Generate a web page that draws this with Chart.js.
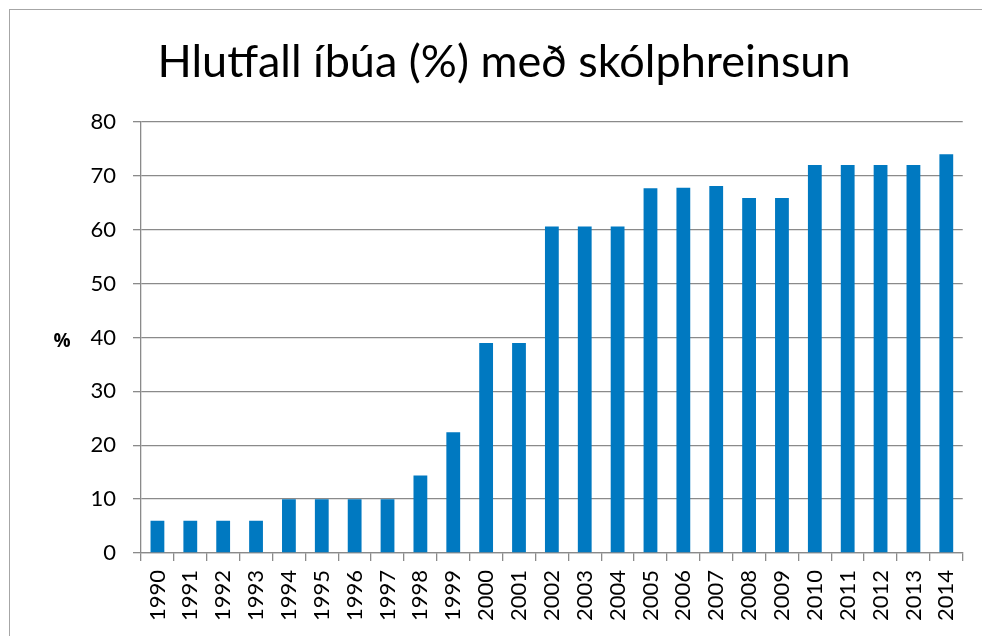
<!DOCTYPE html>
<html>
<head>
<meta charset="utf-8">
<script src="https://cdn.jsdelivr.net/npm/chart.js@4.4.1/dist/chart.umd.min.js"></script>
<style>
  html, body { margin: 0; padding: 0; background: #fff; overflow: hidden; }
  #frame { position: absolute; left: 9px; top: 9px; width: 1200px; height: 900px;
           border-left: 1.5px solid #a6a6a6; border-top: 1.5px solid #a6a6a6; }
  #chart { position: absolute; left: 0; top: 0; }
</style>
</head>
<body>
<div id="frame"></div>
<canvas id="chart" width="982" height="636"></canvas>
<script>
// chart data
var years = ['1990', '1991', '1992', '1993', '1994', '1995', '1996', '1997', '1998', '1999',
             '2000', '2001', '2002', '2003', '2004', '2005', '2006', '2007', '2008', '2009',
             '2010', '2011', '2012', '2013', '2014'];
var percent = [6, 6, 6, 6, 10, 10, 10, 10, 14.4, 22.4,
               39, 39, 60.6, 60.6, 60.6, 67.7, 67.8, 68.1, 65.9, 65.9,
               72, 72, 72, 72, 74];
var titleText = 'Hlutfall íbúa (%) með skólphreinsun';
var yTitle = '%';

var gridColor = '#8a8a8a';
var fontFamily = 'Lato, "Open Sans", sans-serif';

// title and the upright "%" axis label, drawn the way the original sheet shows them
var labelsPlugin = {
    id: 'labels',
    afterDraw: function (chart) {
        var c = chart.ctx;
        c.save();
        c.fillStyle = '#000';
        c.textAlign = 'center';
        c.textBaseline = 'middle';
        c.font = 'normal 45px ' + fontFamily;
        c.fillText(titleText, 504, 62);
        c.font = 'bold 19px "Open Sans", sans-serif';
        c.fillText(yTitle, 62, 342);
        c.restore();
    }
};

var ctx = document.getElementById('chart').getContext('2d');
var chart = new Chart(ctx, {
    type: 'bar',
    data: {
        labels: years,
        datasets: [{
            label: 'Hlutfall',
            data: percent,
            backgroundColor: '#0079c1',
            borderWidth: 0,
            barPercentage: 0.42,
            categoryPercentage: 1.0
        }]
    },
    options: {
        responsive: false,
        animation: false,
        layout: { padding: { left: 0, right: 15, top: 122, bottom: 0 } },
        plugins: {
            legend: { display: false },
            tooltip: { enabled: false },
            title: { display: false }
        },
        scales: {
            x: {
                offset: true,
                grid: { display: true, drawOnChartArea: false, drawTicks: true, tickLength: 8,
                        color: gridColor, lineWidth: 1.3, offset: true },
                border: { display: true, color: gridColor, width: 1.3 },
                ticks: { color: '#000', minRotation: 90, maxRotation: 90, autoSkip: false, padding: 9,
                         font: { family: fontFamily, size: 22 } },
                afterFit: function (scale) { scale.height = 83; }
            },
            y: {
                min: 0,
                max: 80,
                ticks: { stepSize: 10, color: '#000', padding: 17,
                         font: { family: fontFamily, size: 22 } },
                grid: { color: gridColor, lineWidth: 1.3, tickLength: 8 },
                border: { display: true, color: gridColor, width: 1.3 },
                afterFit: function (scale) { scale.width = 141; }
            }
        }
    },
    plugins: [labelsPlugin]
});
</script>
</body>
</html>
